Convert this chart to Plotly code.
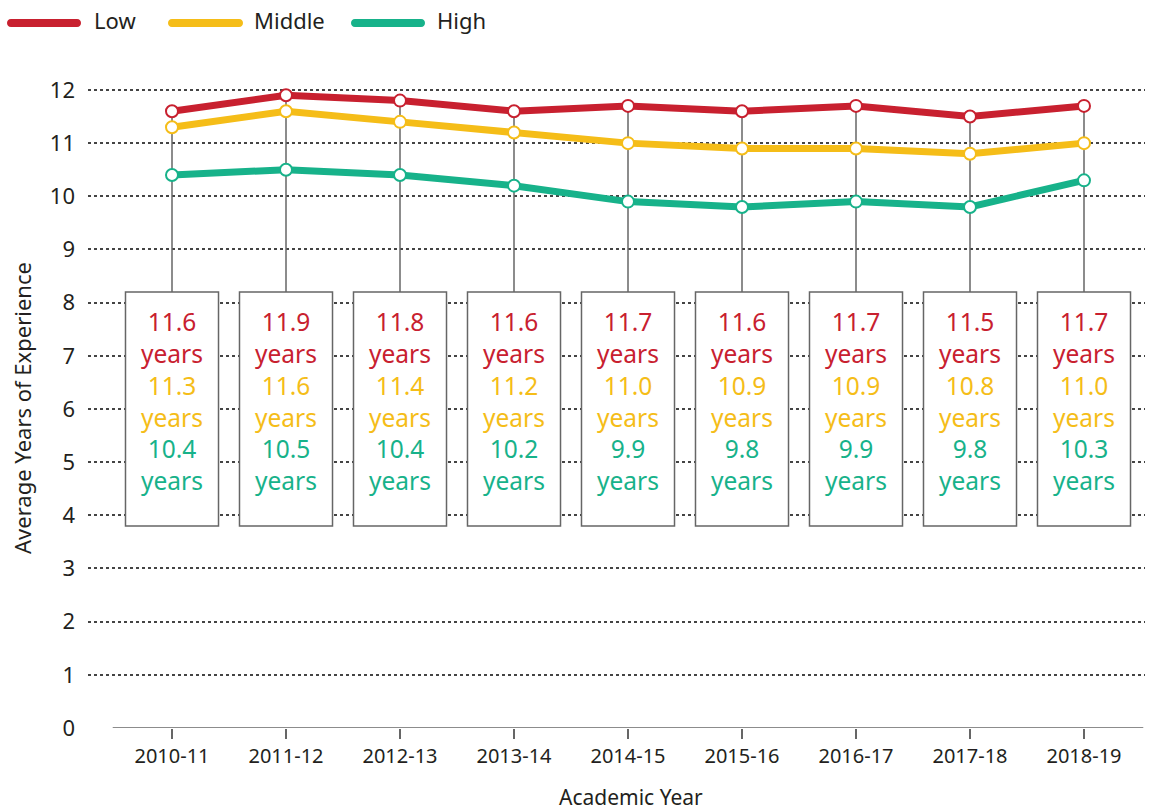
import plotly.graph_objects as go

# Academic years and average teacher experience by school poverty level
years = ["2010-11", "2011-12", "2012-13", "2013-14", "2014-15",
         "2015-16", "2016-17", "2017-18", "2018-19"]
low = [11.6, 11.9, 11.8, 11.6, 11.7, 11.6, 11.7, 11.5, 11.7]
middle = [11.3, 11.6, 11.4, 11.2, 11.0, 10.9, 10.9, 10.8, 11.0]
high = [10.4, 10.5, 10.4, 10.2, 9.9, 9.8, 9.9, 9.8, 10.3]
series_names = ["Low", "Middle", "High"]
y_ticks = list(range(0, 13))

RED = "#C8202F"
YELLOW = "#F5BD18"
GREEN = "#17B28A"
GRAY = "#666666"
TEXT = "#231F20"
FONT = "Noto Sans"
colors = [RED, YELLOW, GREEN]

W, H = 1155, 811
ML, MR, MT, MB = 88, 10, 60, 83
PW, PH = W - ML - MR, H - MT - MB


def px_x(p):
    return (p - ML) / PW


def px_y(p):
    return (H - MB - p) / PH


fig = go.Figure()
xs = list(range(len(years)))
for name, vals, col in zip(series_names, [low, middle, high], colors):
    fig.add_trace(go.Scatter(
        x=xs, y=vals, name=name, mode="lines+markers",
        line=dict(color=col, width=7),
        marker=dict(size=12, color="white", line=dict(color=col, width=2)),
        showlegend=False, cliponaxis=False,
    ))

shapes = []
annotations = []
box_top, box_bot, half_w = 8.2, 3.8, 0.408
for i in xs:
    # connector from the top point down to the label box
    shapes.append(dict(type="line", xref="x", yref="y", x0=i, x1=i,
                       y0=max(low[i], middle[i], high[i]), y1=box_top,
                       line=dict(color=GRAY, width=1.5), layer="between"))
    shapes.append(dict(type="rect", xref="x", yref="y",
                       x0=i - half_w, x1=i + half_w, y0=box_bot, y1=box_top,
                       fillcolor="white", line=dict(color=GRAY, width=1.5),
                       layer="between"))
    txt = "<br>".join(
        f"<span style='color:{c}'>{v:.1f}</span><br><span style='color:{c}'>years</span>"
        for v, c in zip([low[i], middle[i], high[i]], colors))
    annotations.append(dict(x=i, y=6.15, xref="x", yref="y", text=txt,
                            showarrow=False, align="center",
                            xanchor="center", yanchor="middle",
                            font=dict(family=FONT, size=24.5)))

# x axis baseline
shapes.append(dict(type="line", xref="x", yref="y", x0=-0.52, x1=8.52, y0=0, y1=0,
                   line=dict(color=GRAY, width=1.5), layer="between"))


def pill(x0, x1, yc, h=8):
    r = h / 2
    k = r * 1.33
    pts = [
        ("M", [(x0, yc - r)]),
        ("L", [(x1, yc - r)]),
        ("C", [(x1 + k, yc - r), (x1 + k, yc + r), (x1, yc + r)]),
        ("L", [(x0, yc + r)]),
        ("C", [(x0 - k, yc + r), (x0 - k, yc - r), (x0, yc - r)]),
    ]
    path = ""
    for cmd, cs in pts:
        path += cmd + " ".join(f"{px_x(a):.5f},{px_y(b):.5f}" for a, b in cs)
    return path + "Z"


legend_items = [(11, 77, 92), (172, 239, 252), (355, 421, 435)]
for (a, b, tx), name, col in zip(legend_items, series_names, colors):
    shapes.append(dict(type="path", xref="paper", yref="paper", path=pill(a, b, 23),
                       fillcolor=col, line=dict(width=0)))
    annotations.append(dict(x=px_x(tx), y=px_y(20), xref="paper", yref="paper",
                            text=name, showarrow=False, xanchor="left", yanchor="middle",
                            font=dict(family=FONT, size=22, color=TEXT)))

annotations.append(dict(x=px_x(631), y=px_y(797), xref="paper", yref="paper",
                        text="Academic Year", showarrow=False,
                        xanchor="center", yanchor="middle",
                        font=dict(family=FONT, size=21, color=TEXT)))
annotations.append(dict(x=px_x(22), y=px_y(408), xref="paper", yref="paper",
                        text="Average Years of Experience", showarrow=False, textangle=-90,
                        xanchor="center", yanchor="middle",
                        font=dict(family=FONT, size=22, color=TEXT)))

fig.update_layout(
    width=W, height=H,
    margin=dict(l=ML, r=MR, t=MT, b=MB),
    plot_bgcolor="white", paper_bgcolor="white",
    shapes=shapes, annotations=annotations,
    xaxis=dict(range=[-(172 - ML) / 114, 8 + (ML + PW - 1084) / 114],
               tickvals=xs, ticktext=years, showgrid=False, zeroline=False,
               showline=False, ticks="outside", ticklen=10, tickwidth=1.5,
               tickcolor=GRAY, tickfont=dict(family=FONT, size=20, color=TEXT)),
    yaxis=dict(range=[0, PH / 53.17], tickvals=y_ticks, showgrid=True,
               gridcolor="#444444", gridwidth=1.5, griddash="dot",
               zeroline=False, showline=False, ticks="",
               ticklabelstandoff=12,
               tickfont=dict(family=FONT, size=22, color=TEXT)),
)

fig.write_html("out.html")
